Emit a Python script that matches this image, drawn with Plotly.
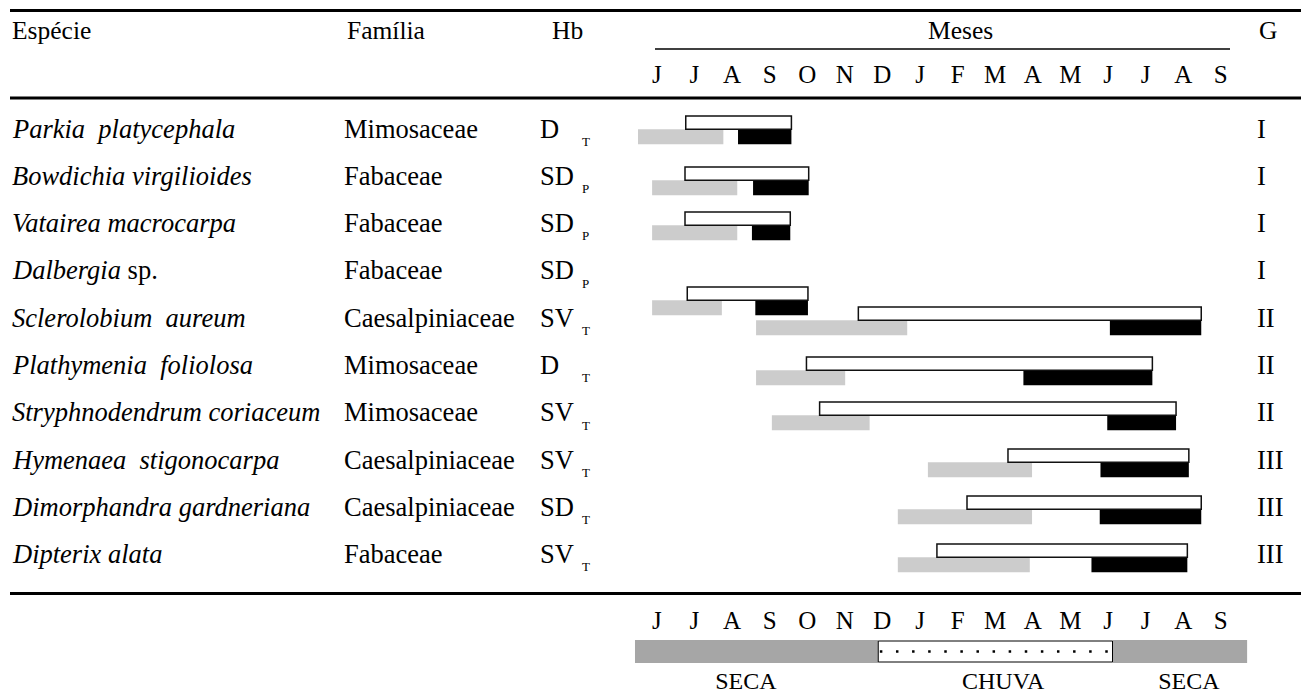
import plotly.graph_objects as go

# ---------------- data ----------------
species = [
    "<i>Parkia\u00a0 platycephala</i>",
    "<i>Bowdichia virgilioides</i>",
    "<i>Vatairea macrocarpa</i>",
    "<i>Dalbergia</i> sp.",
    "<i>Sclerolobium\u00a0 aureum</i>",
    "<i>Plathymenia\u00a0 foliolosa</i>",
    "<i>Stryphnodendrum coriaceum</i>",
    "<i>Hymenaea\u00a0 stigonocarpa</i>",
    "<i>Dimorphandra gardneriana</i>",
    "<i>Dipterix alata</i>",
]
families = ["Mimosaceae", "Fabaceae", "Fabaceae", "Fabaceae", "Caesalpiniaceae",
            "Mimosaceae", "Mimosaceae", "Caesalpiniaceae", "Caesalpiniaceae", "Fabaceae"]
habit = ["D", "SD", "SD", "SD", "SV", "D", "SV", "SV", "SD", "SV"]
habit_sub = ["T", "P", "P", "P", "T", "T", "T", "T", "T", "T"]
group = ["I", "I", "I", "I", "II", "II", "II", "III", "III", "III"]
months = ["J", "J", "A", "S", "O", "N", "D", "J", "F", "M", "A", "M", "J", "J", "A", "S"]

# phenophases, in months counted from the start of June (0)
fruit_start = [1.27, 1.25, 1.25, 1.31, 5.86, 4.48, 4.83, 9.84, 8.75, 7.95]
fruit_end = [4.08, 4.54, 4.05, 4.52, 14.98, 13.68, 14.31, 14.65, 14.98, 14.61]
flower_start = [0.0, 0.375, 0.375, 0.375, 3.14, 3.14, 3.56, 7.71, 6.91, 6.91]
flower_end = [2.27, 2.64, 2.64, 2.23, 7.16, 5.51, 6.16, 10.48, 10.48, 10.42]
disp_start = [2.66, 3.06, 3.03, 3.12, 12.55, 10.25, 12.48, 12.30, 12.28, 12.06]
disp_end = [4.08, 4.54, 4.05, 4.52, 14.98, 13.68, 14.31, 14.65, 14.98, 14.61]

seasons = ["SECA", "CHUVA", "SECA"]
season_start = [-0.08, 6.39, 12.62]
season_end = [6.39, 12.62, 16.20]
season_label_x = [2.87, 9.71, 14.65]

# ---------------- layout constants ----------------
W, H = 1301, 697
PX_MONTH = 37.6      # pixels per month
X0 = 638.0           # pixel of month 0
ROW_PX = 47.3        # pixels per table row
ROW0 = 128.5         # pixel of row 0 centre
bar_shift_px = [-12.5, -8.8, -11.1, 16.6, -10.7, -8.0, -10.3, -10.6, -10.9, -10.2]
WHITE_H = 13.3
LOW_H = 15.0
FONT = "Liberation Serif"
FS = 26.5


def rv(px):
    return (px - ROW0) / ROW_PX


def py(px):
    return 1 - px / H


def pxx(px):
    return px / W


n = len(species)
white_y = [i + (bar_shift_px[i] + WHITE_H / 2) / ROW_PX for i in range(n)]
low_y = [i + (bar_shift_px[i] + WHITE_H + LOW_H / 2) / ROW_PX for i in range(n)]

fig = go.Figure()

fig.add_trace(go.Bar(
    orientation="h", y=low_y, base=flower_start,
    x=[e - s for s, e in zip(flower_start, flower_end)],
    width=[LOW_H / ROW_PX] * n,
    marker=dict(color="#cccccc", line=dict(width=0)), hoverinfo="skip"))
fig.add_trace(go.Bar(
    orientation="h", y=low_y, base=disp_start,
    x=[e - s for s, e in zip(disp_start, disp_end)],
    width=[LOW_H / ROW_PX] * n,
    marker=dict(color="black", line=dict(width=0)), hoverinfo="skip"))
fig.add_trace(go.Bar(
    orientation="h", y=white_y, base=fruit_start,
    x=[e - s for s, e in zip(fruit_start, fruit_end)],
    width=[WHITE_H / ROW_PX] * n,
    marker=dict(color="white", line=dict(width=1.5, color="#111111")), hoverinfo="skip"))

# season band
band_y = rv(651.5)
band_w = 23 / ROW_PX
for s, e, name in zip(season_start, season_end, seasons):
    if name == "SECA":
        fig.add_trace(go.Bar(orientation="h", y=[band_y], base=[s], x=[e - s],
                             width=[band_w], marker=dict(color="#a6a6a6", line=dict(width=0)),
                             hoverinfo="skip"))
for s, e, name in zip(season_start, season_end, seasons):
    if name == "CHUVA":
        fig.add_trace(go.Bar(orientation="h", y=[band_y], base=[s], x=[e - s],
                             width=[band_w - 2 / ROW_PX],
                             marker=dict(color="white", line=dict(width=1, color="black")),
                             hoverinfo="skip"))
        inset_l = 1.6 / PX_MONTH
        inset_r = 4.0 / PX_MONTH
        fig.add_trace(go.Scatter(x=[s + inset_l, e - inset_r], y=[band_y, band_y], mode="lines",
                                 line=dict(color="black", width=2.5, dash="2.5px,13.6px"),
                                 hoverinfo="skip"))

# month letters
mx = [i + 0.5 for i in range(len(months))]
for ypx in (76.5, 623):
    fig.add_trace(go.Scatter(x=mx, y=[rv(ypx)] * len(months), mode="text", text=months,
                             textposition="middle center",
                             textfont=dict(family=FONT, size=25, color="black"),
                             hoverinfo="skip"))

# season labels
fig.add_trace(go.Scatter(x=season_label_x, y=[rv(682.5)] * 3, mode="text", text=seasons,
                         textposition="middle center",
                         textfont=dict(family=FONT, size=24, color="black"), hoverinfo="skip"))

ann = []


def add(text, x, y, size=FS, anchor="left", yref="paper"):
    ann.append(dict(text=text, x=x, y=y, xref="paper", yref=yref, xanchor=anchor,
                    yanchor="middle", showarrow=False,
                    font=dict(family=FONT, size=size, color="black")))


# header
add("Espécie", pxx(10), py(31), 25.5)
add("Família", pxx(345), py(31), 25.5)
add("Hb", pxx(550), py(31), 25.5)
add("Meses", pxx(960), py(31), 25.5, anchor="center")
add("G", pxx(1257), py(31), 25.5)

for i in range(n):
    add(species[i], pxx(10), i, FS, yref="y")
    add(families[i], pxx(342), i, FS, yref="y")
    add(habit[i], pxx(538), i, FS, yref="y")
    add(habit_sub[i], pxx(580), i + 12.7 / ROW_PX, 13, yref="y")
    add(group[i], pxx(1255), i, FS, yref="y")

shapes = [
    dict(type="line", xref="paper", yref="paper", x0=pxx(10), x1=1, y0=py(10.5), y1=py(10.5),
         line=dict(color="black", width=3)),
    dict(type="line", xref="paper", yref="paper", x0=pxx(655), x1=pxx(1230), y0=py(49), y1=py(49),
         line=dict(color="black", width=1.5)),
    dict(type="line", xref="paper", yref="paper", x0=pxx(10), x1=1, y0=py(98), y1=py(98),
         line=dict(color="black", width=3)),
    dict(type="line", xref="paper", yref="paper", x0=pxx(10), x1=1, y0=py(593.5), y1=py(593.5),
         line=dict(color="black", width=3)),
]

fig.update_layout(
    width=W, height=H, margin=dict(l=0, r=0, t=0, b=0),
    paper_bgcolor="white", plot_bgcolor="white",
    barmode="overlay", showlegend=False,
    xaxis=dict(range=[-X0 / PX_MONTH, (W - X0) / PX_MONTH], visible=False, fixedrange=True),
    yaxis=dict(range=[(H - ROW0) / ROW_PX, -ROW0 / ROW_PX], visible=False, fixedrange=True),
    annotations=ann, shapes=shapes,
)

fig.write_html("out.html", config={"displayModeBar": False},
               post_script="document.body.style.margin='0';document.body.style.overflow='hidden';")
